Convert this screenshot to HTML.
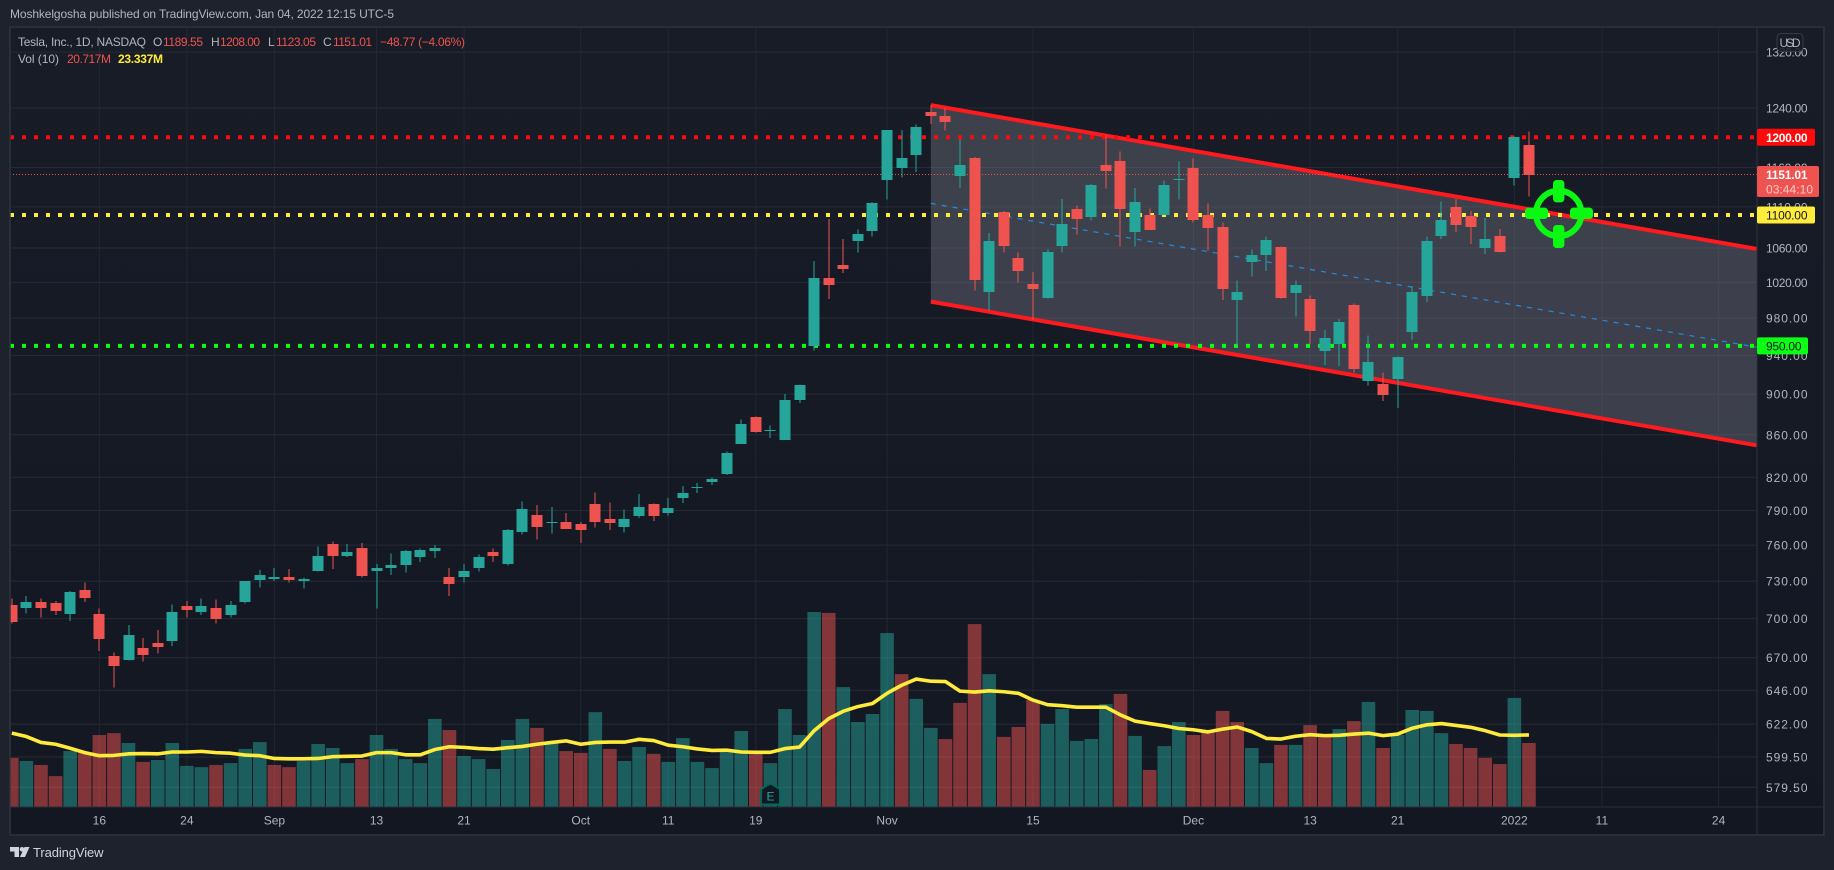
<!DOCTYPE html>
<html lang="en">
<head>
<meta charset="utf-8">
<title>Tesla, Inc. 1D chart</title>
<style>
html,body{margin:0;padding:0;background:#1e222d;width:1834px;height:870px;overflow:hidden}
svg{display:block}
text{font-family:"Liberation Sans",sans-serif}
</style>
</head>
<body>
<svg id="root" xmlns="http://www.w3.org/2000/svg" width="1834" height="870" viewBox="0 0 1834 870">
  <defs>
    <linearGradient id="paneBg" x1="0" y1="0" x2="0" y2="1">
      <stop offset="0" stop-color="#181c27"/>
      <stop offset="1" stop-color="#131722"/>
    </linearGradient>
    <clipPath id="plotClip"><rect x="10.7" y="27.5" width="1746.3" height="779.5"/></clipPath>
  </defs>
  <rect x="0" y="0" width="1834" height="870" fill="#1e222d"/>
  <text x="10" y="18" font-size="12" fill="#b2b5be" textLength="384">Moshkelgosha published on TradingView.com, Jan 04, 2022 12:15 UTC-5</text>
  <rect x="10" y="27" width="1814" height="808" fill="url(#paneBg)" stroke="#2a2e39" stroke-width="2"/>
  <g id="gridLayer"></g>
  <g clip-path="url(#plotClip)">
    <g id="volumeLayer"></g>
    <g id="drawingLayer"></g>
    <g id="candleLayer" shape-rendering="crispEdges"></g>
    <g>
      <path d="M770.5 783.5 L780 789 V804.5 H761 V789 Z" fill="#131722" stroke="#00695c" stroke-width="2"/>
      <text x="770.5" y="800.5" font-size="12" fill="#26a69a" text-anchor="middle">E</text>
    </g>
  </g>
  <line x1="10" y1="807" x2="1824" y2="807" stroke="#2a2e39" stroke-width="1"/>
  <line x1="1757" y1="27" x2="1757" y2="835" stroke="#2f333e" stroke-width="1"/>
  <g id="priceLabels"></g>
  <g id="timeLabels"></g>
  <g id="tagLayer"></g>
  <g>
    <rect x="1777" y="33.5" width="26" height="18" rx="4" fill="#181c27" fill-opacity="0.85" stroke="#363a45"/>
    <text x="1790" y="47" font-size="12" fill="#b2b5be" text-anchor="middle" textLength="21">USD</text>
  </g>
  <g>
    <circle cx="1558.7" cy="213.5" r="22.7" fill="none" stroke="#0bf812" stroke-width="6"/>
    <rect x="1553" y="180" width="11.4" height="22.4" rx="3.5" fill="#0bf812"/>
    <rect x="1553" y="225" width="11.4" height="23" rx="3.5" fill="#0bf812"/>
    <rect x="1525" y="207.6" width="23" height="11.4" rx="3.5" fill="#0bf812"/>
    <rect x="1570" y="207.6" width="23" height="11.4" rx="3.5" fill="#0bf812"/>
  </g>
  <g font-size="12">
    <text x="18" y="46" fill="#b2b5be" textLength="128">Tesla, Inc., 1D, NASDAQ</text>
    <text x="153" y="46" fill="#b2b5be">O</text>
    <text x="163" y="46" fill="#ef5350" textLength="40">1189.55</text>
    <text x="211" y="46" fill="#b2b5be">H</text>
    <text x="220" y="46" fill="#ef5350" textLength="40">1208.00</text>
    <text x="268" y="46" fill="#b2b5be">L</text>
    <text x="276" y="46" fill="#ef5350" textLength="40">1123.05</text>
    <text x="323" y="46" fill="#b2b5be">C</text>
    <text x="333" y="46" fill="#ef5350" textLength="39">1151.01</text>
    <text x="380" y="46" fill="#ef5350" textLength="85">−48.77 (−4.06%)</text>
    <text x="18" y="63" fill="#b2b5be" textLength="41">Vol (10)</text>
    <text x="67" y="63" fill="#ef5350" textLength="44">20.717M</text>
    <text x="118" y="63" fill="#ffeb3b" font-weight="bold" textLength="45">23.337M</text>
  </g>
  <g>
    <path d="M10 847 H19 V857 H14.5 V851.5 H10 Z" fill="#d1d4dc"/>
    <circle cx="22" cy="849.3" r="2.3" fill="#d1d4dc"/>
    <path d="M24.5 847 H29.5 L25 857 H20 Z" fill="#d1d4dc"/>
    <text x="33" y="857" font-size="13" fill="#d1d4dc" textLength="70.5">TradingView</text>
  </g>
</svg>
<script>
const opens = [711,708,713,712,704,723,704,671,668,677,
681,683,710,705,708,703,713,731,732,733,
730,738,761,751,758,738,741,743,750,755,
733,733,741,754,744,771,786,779,780,778,
796,783,776,785.5,796,787.6,801,810.5,815.5,823,
851,877,864,855,894,950,1025,1040,1068,1081,
1144,1159,1176,1234,1229,1149,1172,1009,1104,1048,
1018,1002,1062,1107,1098,1163,1168,1079,1100,1100,
1144,1160,1100,1085,1000,1044,1052,1061,1008,1001,
945,952,994,913,910,915,965,1005,1074,1110,
1099,1060,1074,1147,1189.55];
const highs = [716,718,716,714,722,729,708,674,695,685,
691,711,714,716,715,714,730,739,741,740,
733,759,763,761,762,744,753,756,757,760,
741,744,752,757,774,798,795,793,788,780,
806,797,791,805,796.4,801,812,815,820,844,
875,878,869,900,910,1045,1095,1071,1082,1116,
1210,1210,1217,1244,1240,1197,1174,1078,1105,1055,
1032,1058,1120,1112,1139,1203,1181,1134,1108,1143,
1168,1172,1114,1091,1022,1058,1074,1062,1022,1005,
967,979,996,961,922,939,1016,1074,1117,1120,
1105,1096,1083,1201,1208];
const lows = [696,704,701,703,698,713,675,648,668,667,
673,679,701,703,696,701,712,725,730,729,
724,738,740,750,733,708,735,737,746,749,
718,729,738,746,743,769,765,770,774,762,
775,773,771,783.4,781,785.5,796.6,805.8,813,822,
851,862,857,855,891,945,1001,1031,1055,1074,
1119,1147,1154,1218,1209,1134,1011,988,1055,1020,
978,1002,1055,1076,1093,1133,1062,1062,1082,1100,
1119,1091,1057,1000,950,1027,1033,1002,982,952,
930,929,922,909,893,886,957,998,1071,1079,
1065,1053,1055,1137,1123.05];
const closes = [697,713,708,706,721,716,684,664,687,672,
678,705,707,710,700,711,730,735,733,731,
732,751,751,754,734,741,743,755,756,758,
728,738,750,751,773,791,776,780,774,773,
780,779,782.75,793.6,785.5,792,805.7,811,818,843,
870,863,865,894,909,1025,1017,1036,1077,1115,
1210,1172,1214,1229,1221,1163,1023,1069,1062,1033,
1012,1055,1089,1095,1138,1156,1108,1116,1082,1138,
1145,1094,1084,1013,1009,1052,1070,1002,1017,966,
958,976,926,933,899,938,1009,1068,1094,1088,
1085,1071,1055,1200,1151.01];
const volumes = [15.9,14.9,13.6,10.0,18.1,17.4,23.3,23.9,20.7,14.6,
15.2,20.7,13.3,12.9,13.6,14.2,18.8,21.0,13.6,12.9,
14.9,20.4,19.1,14.2,15.5,23.3,18.8,15.5,14.2,28.5,
24.9,16.5,15.5,12.3,21.7,28.5,25.6,20.6,18.1,17.5,
30.7,18.8,14.9,19.4,17.2,14.6,22.3,14.6,12.6,17.8,
24.6,17.5,14.2,31.7,23.3,63.1,62.8,38.8,27.5,30.1,
56.3,43.0,35.0,25.6,22.0,33.7,59.2,43.0,22.7,25.9,
34.6,26.9,31.7,21.4,22.0,33.3,36.6,23.0,12.0,19.7,
27.5,23.3,24.3,31.1,27.5,19.1,14.2,20.1,20.1,26.5,
23.3,25.2,27.8,34.0,19.1,23.3,31.4,31.1,23.9,20.4,
19.1,15.9,13.9,35.3,20.717];
const volumeMA = [23.9,22.8,20.9,20.3,19.0,17.6,16.6,16.7,17.2,17.3,
17.2,17.8,17.8,18.0,17.6,17.4,16.8,16.6,15.7,15.6,
15.6,15.7,16.3,16.4,16.5,17.6,17.6,16.9,16.9,18.6,
19.5,19.3,18.9,18.7,19.2,19.6,20.3,20.9,21.4,20.3,
20.9,21.0,21.0,21.9,21.5,20.0,19.5,18.8,18.3,18.4,
17.8,17.7,17.7,18.9,19.4,24.7,28.6,31.0,32.5,33.5,
36.8,39.4,41.4,40.7,40.6,37.5,37.2,37.6,37.3,36.8,
34.6,33.1,32.8,32.3,32.3,32.3,29.8,27.8,27.0,26.3,
25.4,25.0,24.3,25.2,25.9,24.4,22.2,22.0,22.9,23.4,
23.1,23.2,23.6,23.9,23.1,23.6,25.5,26.6,27.0,26.4,
25.8,24.7,23.3,23.2,23.337];
const priceTicks = [1320,1240,1160,1110,1060,1020,980,940,900,860,820,790,760,730,700,670,646,622,599.5,579.5];
const timeTickLabels = ["16","24","Sep","13","21","Oct","11","19","Nov","15","Dec","13","21","2022","11","24"];
const timeTickBars = [6,12,18,25,31,39,45,51,60,70,81,89,95,103,109,117];
const levelPrices = [1200,1100,950];
const levelColors = ["#ff0a0a","#ffeb3b","#0bff12"];
const levelTagWidths = [58,58,51];
const levelTagText = ["#ffffff","#131722","#131722"];
const channelBars = [63,119.6];
const channelTop = [1244,1059];
const channelBottom = [998.3,849.9];
const lastPrice = 1151.01;
const countdown = "03:44:10";

const NS = "http://www.w3.org/2000/svg";
const GREEN = "#26a69a", RED = "#ef5350";
function xOf(i){ return 11.8 + 14.588 * i; }
function yOf(p){ return 108 + 893 * Math.log(1240 / p); }
function vOf(m){ return 807 - 3.09 * m; }
function make(tag, attrs, parent){
  const el = document.createElementNS(NS, tag);
  for (const k in attrs) el.setAttribute(k, attrs[k]);
  parent.appendChild(el);
  return el;
}
const gridLayer = document.getElementById("gridLayer");
const volumeLayer = document.getElementById("volumeLayer");
const drawingLayer = document.getElementById("drawingLayer");
const candleLayer = document.getElementById("candleLayer");
const priceLabels = document.getElementById("priceLabels");
const timeLabels = document.getElementById("timeLabels");
const tagLayer = document.getElementById("tagLayer");

priceTicks.forEach(function(p){
  const y = yOf(p);
  const line = make("line", {x1:11, x2:1757, y1:y, y2:y, stroke:"#272b36", "stroke-width":1}, gridLayer);
  
  
  const label = make("text", {x:1766, y:y+4.5, "font-size":12, fill:"#b2b5be", textLength:41.5}, priceLabels);
  label.textContent = p.toFixed(2);
  
  
});
timeTickLabels.forEach(function(t, k){
  const x = xOf(timeTickBars[k]);
  const line = make("line", {x1:x, x2:x, y1:28, y2:807, stroke:"#232732", "stroke-width":1}, gridLayer);
  
  
  const label = make("text", {x:x, y:824.5, "font-size":12, fill:"#b2b5be", "text-anchor":"middle"}, timeLabels);
  label.textContent = t;
  
  
});

volumes.forEach(function(v, i){
  const up = i > 0 && closes[i] >= closes[i-1];
  const y = vOf(v);
  const bar = make("rect", {x:xOf(i)-6.8, y:y, width:13.6, height:807-y, fill:up?GREEN:RED, "fill-opacity":0.5}, volumeLayer);
  
  
});
const maLine = make("polyline", {points:volumeMA.map(function(m,i){return xOf(i)+","+vOf(m);}).join(" "), fill:"none", stroke:"#ffeb3b", "stroke-width":3.6, "stroke-linejoin":"round"}, volumeLayer);



const cx0 = xOf(channelBars[0]), cx1 = xOf(channelBars[1]);
const t0 = yOf(channelTop[0]), t1 = yOf(channelTop[1]);
const b0 = yOf(channelBottom[0]), b1 = yOf(channelBottom[1]);
const channelFill = make("polygon", {points:[cx0,t0,cx1,t1,cx1,b1,cx0,b0].join(" "), fill:"#787b86", "fill-opacity":0.4}, drawingLayer);


const midLine = make("line", {x1:cx0, y1:(t0+b0)/2, x2:cx1, y2:(t1+b1)/2, stroke:"#2196f3", "stroke-width":1.2, "stroke-dasharray":"5 6", "stroke-opacity":0.85}, drawingLayer);


const topLine = make("line", {x1:cx0, y1:t0, x2:cx1, y2:t1, stroke:"#ff1a1f", "stroke-width":4}, drawingLayer);


const bottomLine = make("line", {x1:cx0, y1:b0, x2:cx1, y2:b1, stroke:"#ff1a1f", "stroke-width":4}, drawingLayer);



levelPrices.forEach(function(p, k){
  const y = yOf(p);
  const line = make("line", {x1:10, x2:1757, y1:y, y2:y, stroke:levelColors[k], "stroke-width":4, "stroke-dasharray":"4 8"}, drawingLayer);
  
  
});
const lastLine = make("line", {x1:10, x2:1757, y1:yOf(lastPrice), y2:yOf(lastPrice), stroke:RED, "stroke-width":1, "stroke-dasharray":"1 2"}, drawingLayer);



closes.forEach(function(c, i){
  const up = c >= opens[i];
  const color = up ? GREEN : RED;
  const cx = Math.round(xOf(i));
  const g = make("g", {}, candleLayer);
  
  
  const wTop = yOf(highs[i]), wBot = yOf(lows[i]);
  const wick = make("rect", {x:cx-0.5, y:wTop, width:1, height:Math.max(1,wBot-wTop), fill:color}, g);
  
  
  const bTop = Math.round(yOf(Math.max(opens[i], c))), bBot = Math.round(yOf(Math.min(opens[i], c)));
  const body = make("rect", {x:cx-5.5, y:bTop, width:11, height:Math.max(1,bBot-bTop), fill:color}, g);
  
  
});

levelPrices.forEach(function(p, k){
  const y = yOf(p);
  const g = make("g", {}, tagLayer);
  
  
  const box = make("rect", {x:1757, y:y-8.5, width:levelTagWidths[k], height:17, rx:2, fill:levelColors[k]}, g);
  
  
  const text = make("text", {x:1766, y:y+4.5, "font-size":12, fill:levelTagText[k], textLength:k<2?41.5:35.5, "font-weight":k===0?"bold":"normal"}, g);
  text.textContent = p.toFixed(2);
  
  
});
const lastG = make("g", {}, tagLayer);


const lastY = yOf(lastPrice);
const lastBox = make("rect", {x:1757, y:lastY-8.5, width:62, height:31, rx:2, fill:RED}, lastG);


const lastText = make("text", {x:1766, y:lastY+4.5, "font-size":12, "font-weight":"bold", fill:"#ffffff", textLength:41.5}, lastG);
lastText.textContent = lastPrice.toFixed(2);


const cdText = make("text", {x:1766, y:lastY+19, "font-size":12, fill:"#ffffff", "fill-opacity":0.7, textLength:47}, lastG);
cdText.textContent = countdown;


</script>
</body>
</html>
